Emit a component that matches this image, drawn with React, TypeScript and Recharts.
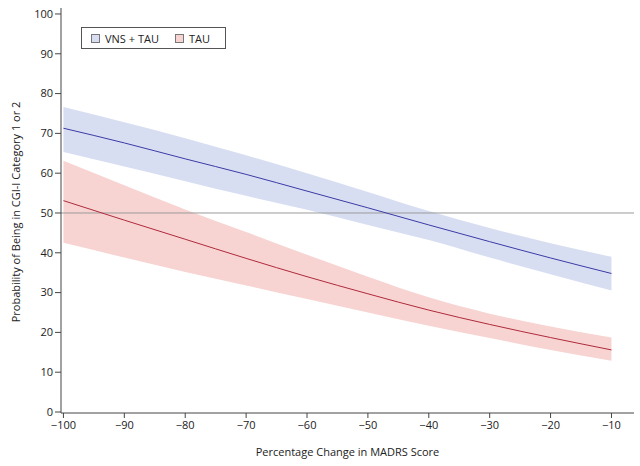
import {
  Area,
  ComposedChart,
  Line,
  ReferenceLine,
  XAxis,
  YAxis,
} from "recharts";

const pctChange = [-100, -90, -80, -70, -60, -50, -40, -30, -20, -10];

const vnsProb = [71.3, 67.6, 63.6, 59.7, 55.5, 51.3, 47.0, 42.8, 38.7, 34.8];
const vnsLower = [65.3, 61.7, 58.0, 54.3, 50.8, 47.0, 43.2, 38.8, 34.6, 30.5];
const vnsUpper = [76.6, 72.8, 68.8, 64.5, 60.0, 55.3, 50.5, 46.2, 42.4, 39.0];

const tauProb = [53.1, 48.2, 43.4, 38.6, 34.0, 29.7, 25.6, 22.0, 18.7, 15.6];
const tauLower = [42.5, 38.8, 35.2, 31.8, 28.4, 25.0, 21.7, 18.6, 15.6, 12.9];
const tauUpper = [63.1, 57.0, 50.9, 45.2, 39.5, 34.0, 28.8, 24.7, 21.5, 18.7];

const xTicks = [-100, -90, -80, -70, -60, -50, -40, -30, -20, -10];
const yTicks = [0, 10, 20, 30, 40, 50, 60, 70, 80, 90, 100];

const data = pctChange.map((x, i) => ({
  x,
  vns: vnsProb[i],
  vnsBand: [vnsLower[i], vnsUpper[i]],
  tau: tauProb[i],
  tauBand: [tauLower[i], tauUpper[i]],
}));

const FONT = "'Open Sans', sans-serif";
const tickStyle = { fill: "#222", fontSize: 11, fontFamily: FONT };
const minus = (v: number) => String(v).replace("-", "\u2212");

const BLUE = "#3b3ba6";
const BLUE_FILL = "#d8def2";
const RED = "#b02a3c";
const RED_FILL = "#f7d4d2";

export default function App() {
  return (
    <div
      style={{
        position: "absolute",
        left: 0,
        top: 0,
        width: 640,
        height: 466,
        background: "#fff",
        fontFamily: FONT,
      }}
    >
      <ComposedChart
        width={640}
        height={466}
        data={data}
        margin={{ top: 8, right: 6, bottom: 1, left: 0 }}
      >
        <XAxis
          dataKey="x"
          type="number"
          domain={[-100.4, -6.3]}
          ticks={xTicks}
          tickFormatter={minus}
          tick={tickStyle}
          tickSize={5}
          tickMargin={3}
          height={52}
          stroke="#444"
          allowDataOverflow
        />
        <XAxis
          xAxisId="top"
          orientation="top"
          dataKey="x"
          type="number"
          domain={[-100.4, -6.3]}
          tick={false}
          tickLine={false}
          height={0}
          stroke="#9a9a9a"
        />
        <YAxis
          type="number"
          domain={[-0.25, 101.5]}
          ticks={yTicks}
          tick={tickStyle}
          tickSize={6}
          tickMargin={2}
          width={61}
          stroke="#444"
          allowDataOverflow
        />
        <YAxis
          yAxisId="r"
          orientation="right"
          tick={false}
          tickLine={false}
          width={0}
          stroke="#9a9a9a"
        />
        <Area
          dataKey="vnsBand"
          type="monotone"
          stroke="none"
          fill={BLUE_FILL}
          fillOpacity={1}
          isAnimationActive={false}
        />
        <Area
          dataKey="tauBand"
          type="monotone"
          stroke="none"
          fill={RED_FILL}
          fillOpacity={1}
          isAnimationActive={false}
        />
        <ReferenceLine y={50} stroke="#9a9a9a" strokeWidth={1} />
        <Line
          dataKey="vns"
          type="monotone"
          stroke={BLUE}
          strokeWidth={1}
          dot={false}
          isAnimationActive={false}
        />
        <Line
          dataKey="tau"
          type="monotone"
          stroke={RED}
          strokeWidth={1}
          dot={false}
          isAnimationActive={false}
        />
      </ComposedChart>

      {/* legend */}
      <div
        style={{
          position: "absolute",
          left: 81,
          top: 27,
          width: 143,
          height: 20,
          border: "1px solid #555",
          background: "#fff",
          display: "flex",
          alignItems: "center",
          fontSize: 11,
          color: "#222",
        }}
      >
        <span
          style={{
            display: "inline-block",
            width: 7,
            height: 7,
            marginLeft: 9,
            border: "1px solid #777",
            background: BLUE_FILL,
          }}
        />
        <span style={{ marginLeft: 5 }}>VNS + TAU</span>
        <span
          style={{
            display: "inline-block",
            width: 7,
            height: 7,
            marginLeft: 16,
            border: "1px solid #777",
            background: RED_FILL,
          }}
        />
        <span style={{ marginLeft: 5 }}>TAU</span>
      </div>

      {/* axis titles */}
      <div
        style={{
          position: "absolute",
          left: 61,
          width: 573,
          top: 444,
          textAlign: "center",
          fontSize: 11,
          color: "#222",
        }}
      >
        Percentage Change in MADRS Score
      </div>
      <div
        style={{
          position: "absolute",
          left: 15,
          top: 212,
          transform: "translate(-50%, -50%) rotate(-90deg)",
          whiteSpace: "nowrap",
          fontSize: 11,
          color: "#222",
        }}
      >
        Probability of Being in CGI-I Category 1 or 2
      </div>
    </div>
  );
}
